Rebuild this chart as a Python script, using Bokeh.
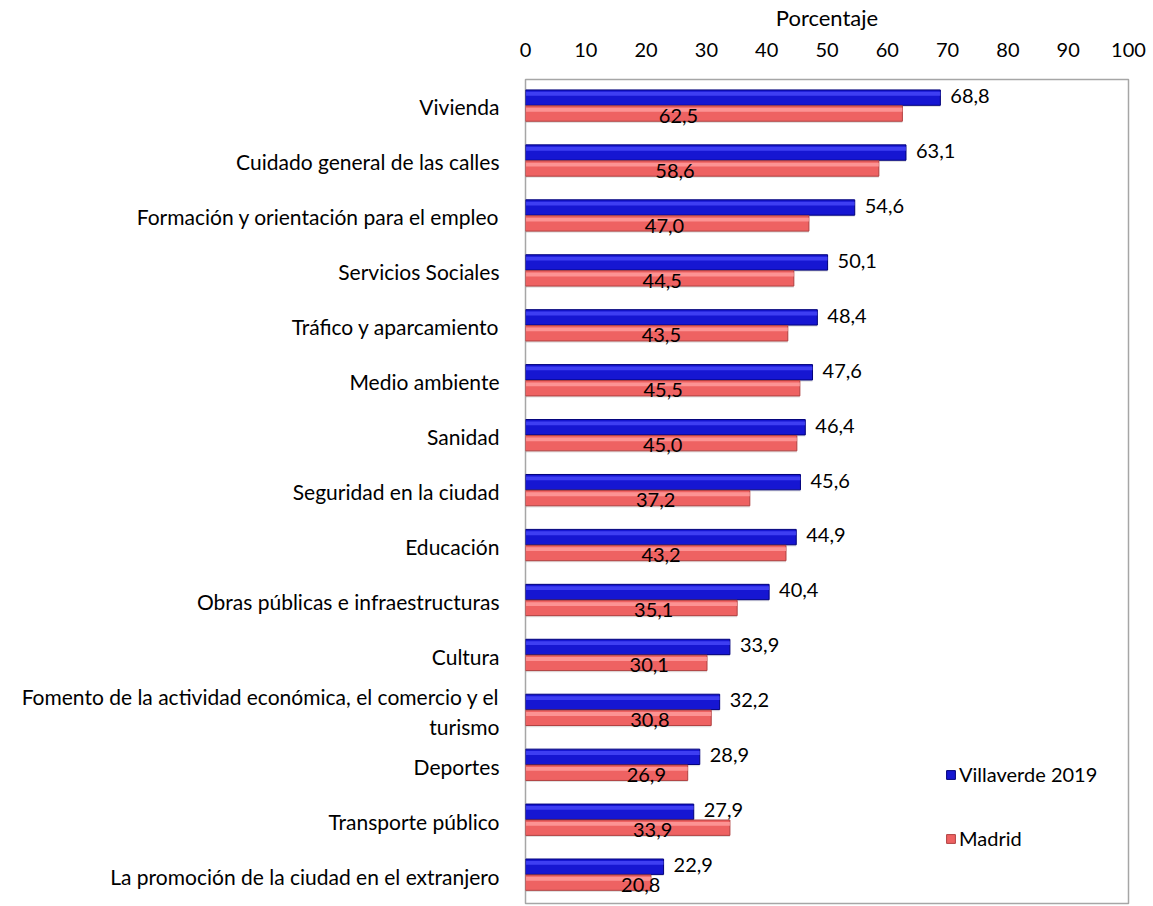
from bokeh.plotting import figure
from bokeh.models import FactorRange, Range1d, ColumnDataSource, FixedTicker, Legend, LegendItem
from bokeh.transform import dodge
from bokeh.core.properties import value
from bokeh.embed import file_html
from bokeh.resources import INLINE

categories = [
    "Vivienda",
    "Cuidado general de las calles",
    "Formación y orientación para el empleo",
    "Servicios Sociales",
    "Tráfico y aparcamiento",
    "Medio ambiente",
    "Sanidad",
    "Seguridad en la ciudad",
    "Educación",
    "Obras públicas e infraestructuras",
    "Cultura",
    "Fomento de la actividad económica, el comercio y el\nturismo",
    "Deportes",
    "Transporte público",
    "La promoción de la ciudad en el extranjero",
]
villaverde_2019 = [68.8, 63.1, 54.6, 50.1, 48.4, 47.6, 46.4, 45.6, 44.9, 40.4, 33.9, 32.2, 28.9, 27.9, 22.9]
madrid = [62.5, 58.6, 47.0, 44.5, 43.5, 45.5, 45.0, 37.2, 43.2, 35.1, 30.1, 30.8, 26.9, 33.9, 20.8]
x_ticks = list(range(0, 101, 10))

FONT = "Lato"
FS = "20px"

def fmt(v):
    return f"{v:.1f}".replace(".", ",")

src = ColumnDataSource(dict(
    cat=categories,
    v=villaverde_2019,
    m=madrid,
    vlab=[fmt(v) for v in villaverde_2019],
    mlab=[fmt(v) for v in madrid],
    mpos=[0.15 * v + 16 for v in madrid],
))

p = figure(
    width=1148, height=905,
    y_range=FactorRange(*categories[::-1]),
    x_range=Range1d(0, 100),
    x_axis_location="above",
    output_backend="svg", toolbar_location=None,
    min_border_left=525, min_border_right=20, min_border_top=78, min_border_bottom=2,
)
p.background_fill_color = "white"
p.border_fill_color = "white"
p.outline_line_color = "#a6a6a6"
p.outline_line_width = 1.5
p.xgrid.grid_line_color = None
p.ygrid.grid_line_color = None

BH = 0.28
VO = 0.17
MO = -0.12

# shadows
p.hbar(y=dodge("cat", VO - 0.03, range=p.y_range), left=0, right="v", height=BH, source=src,
       fill_color="#888888", fill_alpha=0.25, line_color=None)
p.hbar(y=dodge("cat", MO - 0.03, range=p.y_range), left=0, right="m", height=BH, source=src,
       fill_color="#888888", fill_alpha=0.25, line_color=None)

rv = p.hbar(y=dodge("cat", VO, range=p.y_range), left=0, right="v", height=BH, source=src,
            fill_color="#1616d2", line_color="#00007a", line_width=1)
rm = p.hbar(y=dodge("cat", MO, range=p.y_range), left=0, right="m", height=BH, source=src,
            fill_color="#ee6262", line_color="#b04040", line_width=1)

# highlights
p.hbar(y=dodge("cat", VO + 0.07, range=p.y_range), left=0.1, right="v", height=0.07, source=src,
       fill_color="#5050ff", fill_alpha=0.7, line_color=None)
p.hbar(y=dodge("cat", MO + 0.07, range=p.y_range), left=0.1, right="m", height=0.07, source=src,
       fill_color="#ffa0a0", fill_alpha=0.8, line_color=None)

p.text(x="v", y=dodge("cat", VO + 0.03, range=p.y_range), text="vlab", source=src,
       x_offset=10, text_align="left", text_baseline="middle",
       text_font=value(FONT), text_font_size=FS, text_color="#000000")
p.text(x="mpos", y=dodge("cat", MO - 0.04, range=p.y_range), text="mlab", source=src,
       text_align="center", text_baseline="middle",
       text_font=value(FONT), text_font_size=FS, text_color="#000000")

xa = p.xaxis[0]
xa.ticker = FixedTicker(ticks=x_ticks)
xa.axis_label = "Porcentaje"
xa.axis_label_text_font = FONT
xa.axis_label_text_font_size = "22px"
xa.axis_label_text_font_style = "normal"
xa.axis_label_text_color = "#000000"
xa.axis_label_standoff = 9
xa.major_label_text_font = FONT
xa.major_label_text_font_size = FS
xa.major_label_text_color = "#000000"
xa.major_label_standoff = 17
xa.axis_line_color = None
xa.major_tick_line_color = None
xa.minor_tick_line_color = None

ya = p.yaxis[0]
ya.major_label_text_font = FONT
ya.major_label_text_font_size = "21px"
ya.major_label_text_color = "#000000"
ya.major_label_standoff = 20
ya.axis_line_color = None
ya.major_tick_line_color = None
ya.minor_tick_line_color = None

legend = Legend(
    items=[LegendItem(label="Villaverde 2019", renderers=[rv]),
           LegendItem(label="Madrid", renderers=[rm])],
    location=(420, 53),
    orientation="vertical",
    spacing=40,
    padding=0, margin=0,
    glyph_width=11, glyph_height=11,
    label_standoff=3,
    label_text_font=FONT, label_text_font_size=FS, label_text_color="#000000",
    background_fill_alpha=0, border_line_color=None,
)
p.add_layout(legend)

open("out.html", "w").write(file_html(p, INLINE))
